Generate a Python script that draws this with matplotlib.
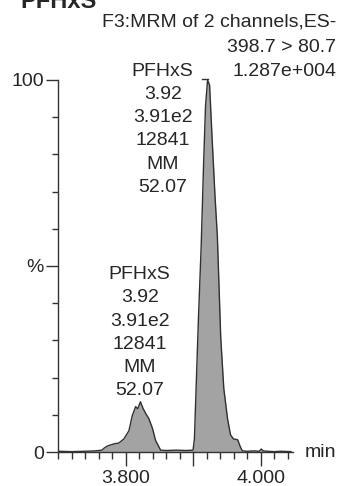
import matplotlib
matplotlib.use("Agg")
import matplotlib.pyplot as plt
from matplotlib.ticker import MultipleLocator

plt.rcParams['font.family'] = ['Liberation Sans', 'DejaVu Sans']

# chromatogram trace (retention time in min, relative intensity in %)
rt = [3.700, 3.720, 3.740, 3.755, 3.765, 3.768, 3.773, 3.783, 3.790, 3.7975,
      3.805, 3.810, 3.815, 3.818, 3.822, 3.826, 3.830, 3.8345, 3.840, 3.8445,
      3.852, 3.860, 3.875, 3.890, 3.900, 3.902, 3.905, 3.908, 3.912, 3.9155,
      3.9185, 3.9215, 3.9245, 3.928, 3.9325, 3.936, 3.938, 3.941, 3.9455, 3.951,
      3.9555, 3.960, 3.966, 3.970, 3.973, 3.980, 3.990, 3.998, 4.001, 4.004,
      4.010, 4.020, 4.030, 4.045]
intensity = [0.2, 0.1, 0.2, 0.3, 0.5, 1.0, 1.6, 2.2, 2.4, 3.5,
             5.7, 9.8, 12.2, 11.6, 13.5, 11.7, 10.3, 9.0, 6.3, 3.1,
             0.5, 0.4, 0.5, 0.4, 0.5, 3.5, 19.8, 36.1, 55.2, 76.9,
             93.2, 100, 98.6, 85.1, 68.8, 57.9, 47.0, 30.7, 17.1, 9.0,
             4.6, 3.5, 3.3, 1.4, 0.3, 0.2, 0.3, 0.2, 0.8, 0.3,
             0.2, 0.1, 0.2, 0.1]

peak_label = ["PFHxS", "3.92", "3.91e2", "12841", "MM", "52.07"]
header = ["F3:MRM of 2 channels,ES-", "398.7 > 80.7", "1.287e+004"]
x_major = [3.8, 3.9, 4.0]
x_labels = ["3.800", "", "4.000"]
y_major = [0, 50, 100]
y_labels = ["0", "%", "100"]

W, H = 337, 486
fig = plt.figure(figsize=(W / 100, H / 100), dpi=100)
ax = fig.add_axes([58 / W, 34 / H, 235 / W, 372 / H])

txt = '#262626'
ax.fill_between(rt, intensity, 0, color='#a3a3a3', lw=0)
ax.plot(rt, intensity, color='#303030', lw=1.0)

ax.set_xlim(3.7, 4.048)
ax.set_ylim(0, 100)
for s in ['top', 'right']:
    ax.spines[s].set_visible(False)
for s in ['left', 'bottom']:
    ax.spines[s].set_color('#333333')
    ax.spines[s].set_linewidth(1.0)

ax.set_xticks(x_major)
ax.set_xticklabels(x_labels)
ax.xaxis.set_minor_locator(MultipleLocator(0.02))
ax.set_yticks(y_major)
ax.set_yticklabels(y_labels)
ax.yaxis.set_minor_locator(MultipleLocator(10))
ax.tick_params(axis='x', which='major', length=10, width=1, color='#333333',
               labelsize=14, labelcolor=txt, pad=3)
ax.tick_params(axis='x', which='minor', length=5, width=1, color='#333333')
ax.tick_params(axis='y', which='major', length=9, width=1, color='#333333',
               labelsize=14, labelcolor=txt, pad=1)
ax.tick_params(axis='y', which='minor', length=4, width=1, color='#333333')

ax.text(4.048 + 0.018, 0, "min", fontsize=14, color=txt, ha='left',
        va='center', clip_on=False)

# peak annotations
def label_block(x, y, lines):
    for i, line in enumerate(lines):
        ax.annotate(line, (x, y), xytext=(0, -i * 16.6), textcoords='offset points',
                    ha='center', va='center', fontsize=14, color=txt,
                    annotation_clip=False)

label_block(3.855, 102.2, peak_label)
label_block(3.821, 47.6, peak_label)
ax.plot([3.913, 3.9215], [100.3, 100.3], color='#303030', lw=1.0, clip_on=False)

# header text
for line, yp in zip(header, [22, 47, 72]):
    fig.text(336 / W, 1 - yp / H, line, fontsize=14, color=txt, ha='right', va='center')
# chart title, cut off at the top edge as in the scanned page
fig.text(20 / W, 1 - 8 / H, "PFHxS", fontsize=17, fontweight='bold', color=txt,
         ha='left', va='baseline')

fig.savefig("out.png", dpi=100, facecolor='white')
